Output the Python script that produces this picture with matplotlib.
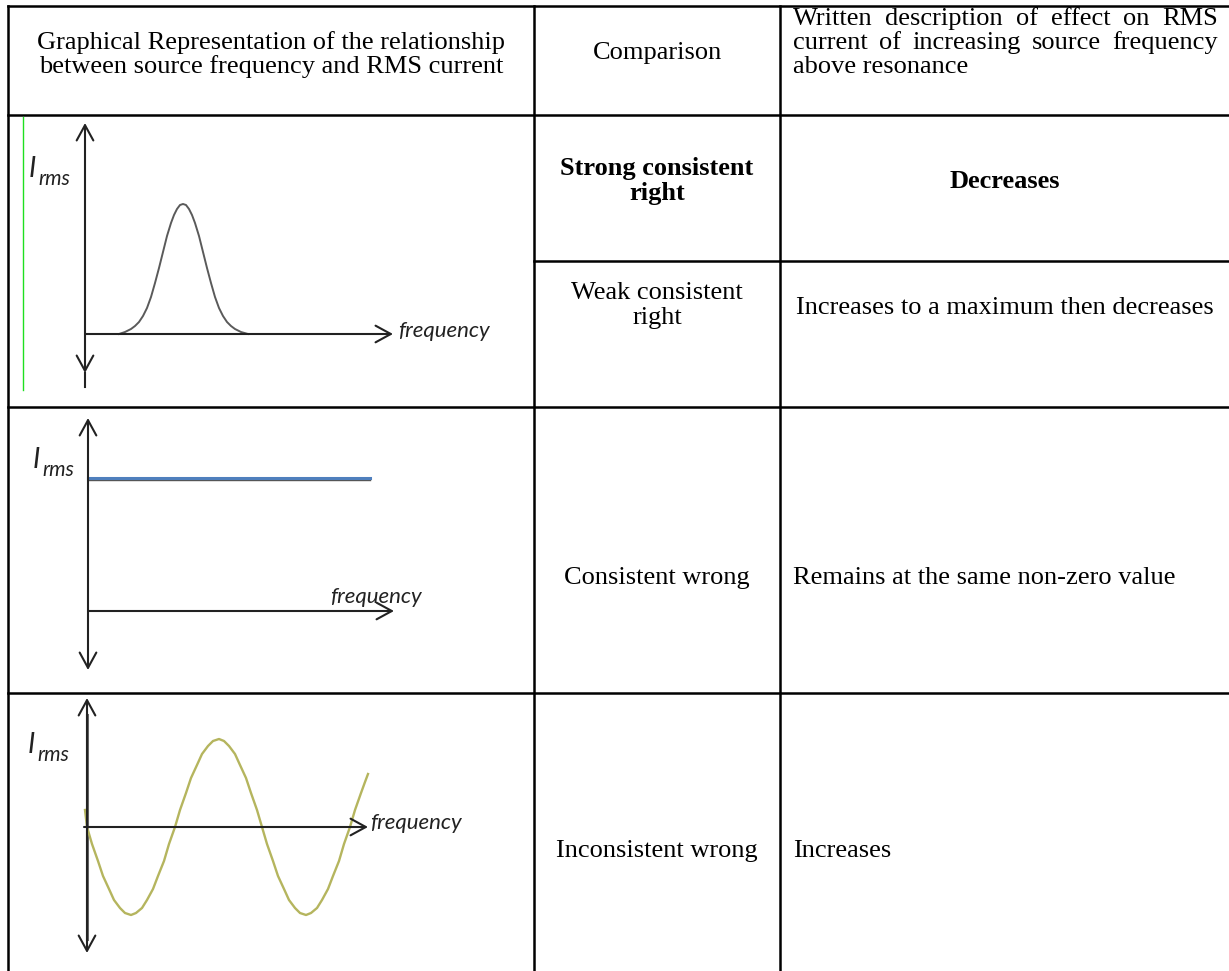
import numpy as np
import matplotlib.pyplot as plt

W, H = 1229, 971

# table text
header_graph = ["Graphical Representation of the relationship",
                "between source frequency and RMS current"]
header_comp = "Comparison"
header_desc = ["Written description of effect on RMS",
               "current of increasing source frequency",
               "above resonance"]
comparisons = [["Strong consistent", "right"], ["Weak consistent", "right"],
               ["Consistent wrong"], ["Inconsistent wrong"]]
descriptions = ["Decreases", "Increases to a maximum then decreases",
                "Remains at the same non-zero value", "Increases"]

# graph 1: resonance peak (frequency, I_rms)
peak_f = [34, 40, 46, 50, 54, 58, 62, 66, 70, 74, 78, 82, 86, 89, 92, 95, 98, 101, 104,
          107, 110, 114, 118, 122, 126, 130, 134, 138, 142, 146, 150, 156, 163]
peak_i = [0, 2, 5, 8, 12, 18, 26, 37, 51, 66, 82, 98, 111, 119, 125, 129, 130, 129, 125,
          119, 111, 98, 82, 66, 51, 37, 26, 18, 12, 8, 5, 2, 0]

# graph 2: flat line
flat_f = [0, 282]
flat_i = [133, 133]

# graph 3: wave
wave_f = [-2, 0, 5, 11, 16, 22, 27, 33, 38, 44, 49, 55, 60, 66, 71, 77, 82, 88,
          93, 99, 104, 110, 115, 121, 126, 132, 137, 142, 148, 153, 159, 164, 170, 175,
          180, 186, 191, 197, 202, 208, 213, 219, 224, 230, 235, 241, 246, 252, 257, 263,
          268, 274, 278, 281]
wave_i = [17, 0, -17, -34, -49, -62, -73, -81, -86, -88, -86, -81, -73, -62, -49, -34, -17, 0,
          17, 34, 49, 62, 73, 81, 86, 88, 86, 81, 73, 62, 49, 34, 17, 0,
          -17, -34, -49, -62, -73, -81, -86, -88, -86, -81, -73, -62, -49, -34, -17, 0,
          17, 34, 45, 53]

serif = 'Liberation Serif'
fs = 19

fig = plt.figure(figsize=(W / 100, H / 100), dpi=100)
bg = fig.add_axes([0, 0, 1, 1])
bg.set_xlim(0, W)
bg.set_ylim(H, 0)
bg.axis('off')

# grid lines
lw = 1.8
for y in [6, 115, 407, 693]:
    bg.plot([8, W], [y, y], color='black', lw=lw, solid_capstyle='projecting')
bg.plot([534, W], [261, 261], color='black', lw=lw)
for x in [8, 534, 780]:
    bg.plot([x, x], [6, H], color='black', lw=lw, solid_capstyle='projecting')
bg.plot([23, 23], [117, 390], color='#1fe01f', lw=1.0)

txt = dict(va='baseline', fontsize=fs, family=serif)

# header
bg.text(271, 49, header_graph[0], ha='center', **txt)
bg.text(271, 73, header_graph[1], ha='center', **txt)
bg.text(657, 59, header_comp, ha='center', **txt)

fig.canvas.draw()
renderer = fig.canvas.get_renderer()


def justify(line, x0, x1, y):
    words = line.split()
    texts = [bg.text(0, y, w, **txt) for w in words]
    widths = [t.get_window_extent(renderer).width for t in texts]
    gap = (x1 - x0 - sum(widths)) / (len(words) - 1)
    x = x0
    for t, w in zip(texts, widths):
        t.set_x(x)
        x += w + gap


justify(header_desc[0], 793, 1218, 25)
justify(header_desc[1], 793, 1218, 49)
bg.text(793, 73, header_desc[2], **txt)

# comparison column
for k, line in enumerate(comparisons[0]):
    bg.text(657, 175 + 25 * k, line, ha='center', weight='bold', **txt)
for k, line in enumerate(comparisons[1]):
    bg.text(657, 299 + 25 * k, line, ha='center', **txt)
bg.text(657, 584, comparisons[2][0], ha='center', **txt)
bg.text(657, 857, comparisons[3][0], ha='center', **txt)

# description column
bg.text(1005, 188, descriptions[0], ha='center', weight='bold', **txt)
bg.text(1005, 314, descriptions[1], ha='center', **txt)
bg.text(793, 584, descriptions[2], **txt)
bg.text(793, 857, descriptions[3], **txt)


def graph_axes(ox, oy, top, bottom):
    # axes over the first column, one data unit = one pixel, origin at (ox, oy)
    ax = fig.add_axes([8 / W, 1 - bottom / H, (534 - 8) / W, (bottom - top) / H])
    ax.set_xlim(8 - ox, 534 - ox)
    ax.set_ylim(oy - bottom, oy - top)
    ax.axis('off')
    return ax


def draw_axes(ax, x_end, y_top, y_bot, x_start=0, axis_col='#222222'):
    arrow = dict(arrowstyle='->,head_length=0.55,head_width=0.3', lw=1.5, color=axis_col,
                 shrinkA=0, shrinkB=0, mutation_scale=20)
    ax.annotate('', xy=(x_end, 0), xytext=(x_start, 0), arrowprops=arrow)
    dbl = dict(arrow, arrowstyle='<->,head_length=0.55,head_width=0.3')
    ax.annotate('', xy=(0, y_top), xytext=(0, y_bot), arrowprops=dbl)


lab = dict(style='italic', family='Lato', color='#222222', va='baseline')


def irms(ax, x, y):
    ax.text(x, y, 'I', fontsize=20, **lab)
    ax.text(x + 9, y - 8, 'rms', fontsize=15, **lab)


# graph 1
ax1 = graph_axes(85, 334, 115, 407)
draw_axes(ax1, 308, 211, -39)
ax1.plot([0, 0], [-39, -53], color='#222222', lw=1.5)
ax1.plot(peak_f, peak_i, color='#5a5a5a', lw=1.4, solid_joinstyle='round')
ax1.text(313, -3, 'frequency', fontsize=16, **lab)
irms(ax1, -56, 157)

# graph 2
ax2 = graph_axes(88, 611, 407, 693)
draw_axes(ax2, 306, 193, -59)
ax2.plot(flat_f, [v - 1.5 for v in flat_i], color='#555555', lw=1.0)
ax2.plot(flat_f, flat_i, color='#4f7fbd', lw=2.2)
ax2.text(334, 8, 'frequency', ha='right', fontsize=16, **lab)
irms(ax2, -55, 143)

# graph 3
ax3 = graph_axes(87, 827, 693, H)
ax3.plot([0, 0], [112, -112], color='#666666', lw=2.2)
draw_axes(ax3, 281, 129, -126, x_start=-3)
ax3.plot(wave_f, wave_i, color='#b5b55e', lw=1.7, solid_joinstyle='round')
ax3.text(283, -2, 'frequency', fontsize=16, **lab)
irms(ax3, -59, 74)

fig.savefig('out.png', dpi=100)
